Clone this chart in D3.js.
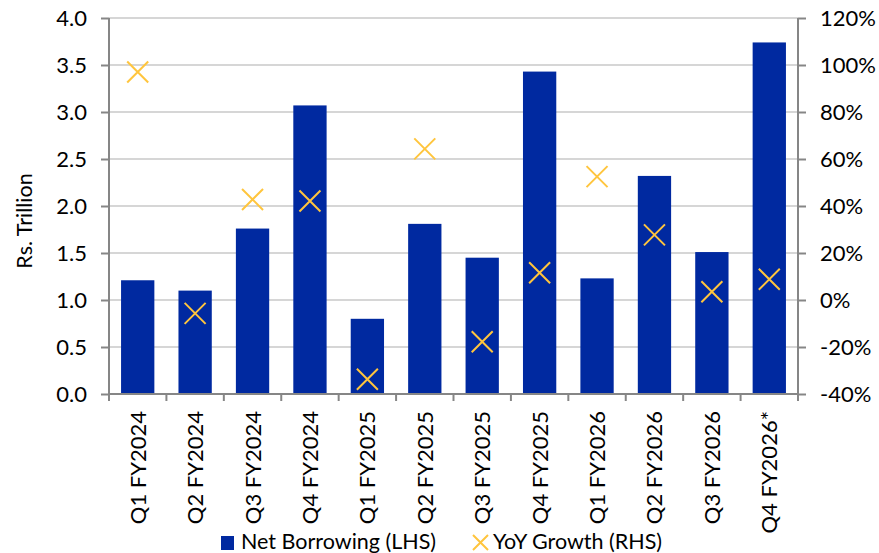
<!DOCTYPE html>
<html>
<head>
<meta charset="utf-8">
<script src="https://cdn.jsdelivr.net/npm/d3@7"></script>
<style>
  html, body { margin: 0; padding: 0; background: #fff; }
  svg { display: block; font-family: Lato, "Open Sans", sans-serif; }
</style>
</head>
<body>
<svg id="chart" width="879" height="553"></svg>
<script>
const categories = ["Q1 FY2024","Q2 FY2024","Q3 FY2024","Q4 FY2024","Q1 FY2025","Q2 FY2025","Q3 FY2025","Q4 FY2025","Q1 FY2026","Q2 FY2026","Q3 FY2026","Q4 FY2026*"];
const netBorrowing = [1.21, 1.10, 1.76, 3.07, 0.80, 1.81, 1.45, 3.43, 1.23, 2.32, 1.51, 3.74];
const yoyGrowth = [97, -5.7, 42.8, 42.1, -33.7, 64.3, -17.8, 11.6, 52.5, 27.7, 3.5, 8.8];
const leftTicks = [0, 0.5, 1.0, 1.5, 2.0, 2.5, 3.0, 3.5, 4.0];
const rightTicks = [-40, -20, 0, 20, 40, 60, 80, 100, 120];
const seriesNames = ["Net Borrowing (LHS)", "YoY Growth (RHS)"];
const yTitle = "Rs. Trillion";

const barColor = "#0029A0";
const markColor = "#FFC53D";
const gridColor = "#C8C8C8";
const axisColor = "#868686";
const fontSize = 22;
const legendFont = 21.5;

const svg = d3.select("#chart");
const pL = 109, pR = 798, pT = 18, pB = 394;

const x = d3.scaleBand().domain(categories).range([pL, pR]).paddingInner(0.42).paddingOuter(0.21);
const xTick = d3.scaleBand().domain(categories).range([pL, pR]);
const yL = d3.scaleLinear().domain([0, 4]).range([pB, pT]);
const yR = d3.scaleLinear().domain([-40, 120]).range([pB, pT]);

// gridlines
svg.append("g").selectAll("line").data(leftTicks.filter(d => d !== 0)).join("line")
  .attr("x1", pL).attr("x2", pR)
  .attr("y1", d => yL(d)).attr("y2", d => yL(d))
  .attr("stroke", gridColor).attr("stroke-width", 1.3);

// bars
svg.append("g").selectAll("rect").data(categories).join("rect")
  .attr("x", d => x(d))
  .attr("width", x.bandwidth())
  .attr("y", (d, i) => yL(netBorrowing[i]))
  .attr("height", (d, i) => yL(0) - yL(netBorrowing[i]))
  .attr("fill", barColor);

// left axis
const axL = svg.append("g").attr("transform", `translate(${pL},0)`)
  .call(d3.axisLeft(yL).tickValues(leftTicks).tickFormat(d3.format(".1f")).tickSize(8).tickPadding(14));
// right axis
const axR = svg.append("g").attr("transform", `translate(${pR},0)`)
  .call(d3.axisRight(yR).tickValues(rightTicks).tickFormat(d => d + "%").tickSize(8).tickPadding(14));
// bottom axis (ticks between categories)
const boundaries = categories.map(c => xTick(c)).concat([pR]);
const axB = svg.append("g").attr("transform", `translate(0,${pB})`);
axB.append("line").attr("x1", pL).attr("x2", pR).attr("stroke", axisColor).attr("stroke-width", 2);
axB.selectAll("line.t").data(boundaries).join("line").attr("class", "t")
  .attr("x1", d => d).attr("x2", d => d).attr("y1", 0).attr("y2", 7)
  .attr("stroke", axisColor).attr("stroke-width", 2);
axB.selectAll("text").data(categories).join("text")
  .attr("transform", d => `translate(${xTick(d) + xTick.bandwidth() / 2 + 8},17) rotate(-90)`)
  .attr("text-anchor", "end")
  .attr("font-size", fontSize)
  .attr("fill", "#000")
  .text(d => d);

[axL, axR].forEach(ax => {
  ax.select(".domain").attr("stroke", axisColor).attr("stroke-width", 2);
  ax.selectAll(".tick line").attr("stroke", axisColor).attr("stroke-width", 2);
  ax.selectAll(".tick text").attr("font-size", fontSize).attr("fill", "#000").attr("font-family", "Lato, sans-serif");
});
axL.select(".domain").attr("d", `M0,${pT}V${pB}`);
axR.select(".domain").attr("d", `M0,${pT}V${pB}`);

// markers
const ms = 10.5;
const marks = svg.append("g").selectAll("g").data(categories).join("g")
  .attr("transform", (d, i) => `translate(${xTick(d) + xTick.bandwidth() / 2},${yR(yoyGrowth[i])})`);
marks.append("path")
  .attr("d", `M${-ms},${-ms}L${ms},${ms}M${-ms},${ms}L${ms},${-ms}`)
  .attr("stroke", markColor).attr("stroke-width", 2).attr("fill", "none");

// y title
svg.append("text")
  .attr("transform", `translate(32,${(pT + pB) / 2 + 15}) rotate(-90)`)
  .attr("text-anchor", "middle")
  .attr("font-size", legendFont)
  .attr("fill", "#000")
  .text(yTitle);

// legend
const lg = svg.append("g");
lg.append("rect").attr("x", 221).attr("y", 536).attr("width", 13).attr("height", 14).attr("fill", barColor);
lg.append("text").attr("x", 241).attr("y", 549).attr("font-size", legendFont).attr("fill", "#000").text(seriesNames[0]);
lg.append("path").attr("d", "M473,535L488,550M473,550L488,535").attr("stroke", markColor).attr("stroke-width", 2);
lg.append("text").attr("x", 493).attr("y", 549).attr("font-size", legendFont).attr("fill", "#000").text(seriesNames[1]);
</script>
</body>
</html>
